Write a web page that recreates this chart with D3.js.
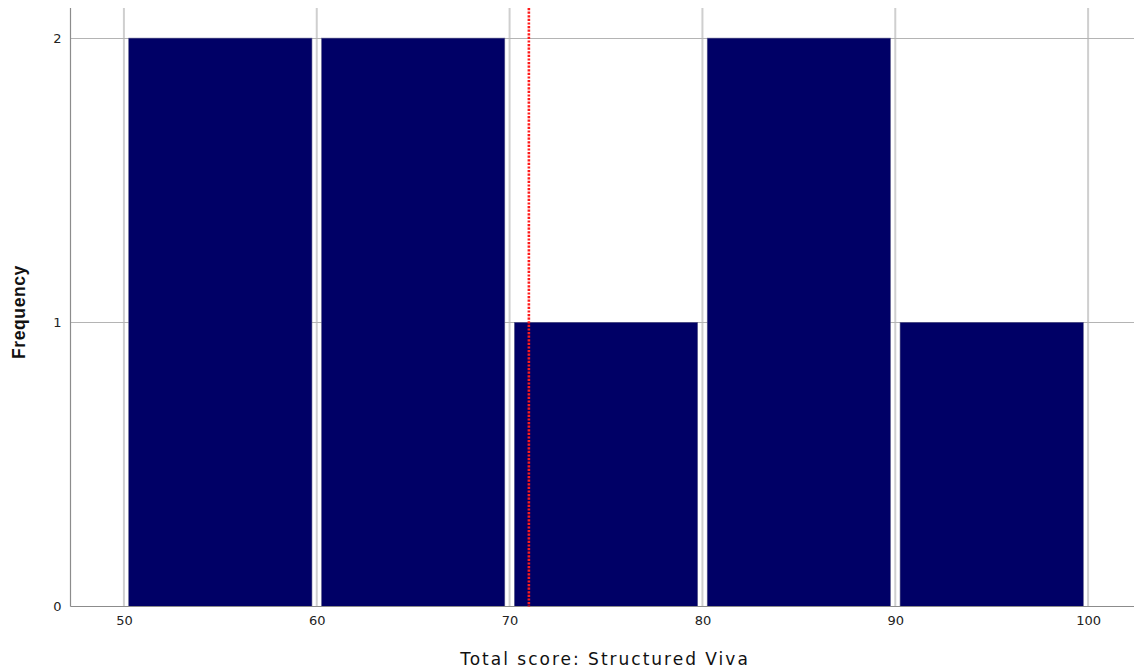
<!DOCTYPE html>
<html><head><meta charset="utf-8">
<script src="https://cdn.jsdelivr.net/npm/d3@7"></script>
<style>body{margin:0;background:#fff}</style>
</head><body>
<svg id="c" width="1134" height="670"></svg>
<script>
const binStarts = [50, 60, 70, 80, 90];
const binWidth = 10;
const frequencies = [2, 2, 1, 2, 1];
const xTicks = [50, 60, 70, 80, 90, 100];
const yTicks = [0, 1, 2];
const meanValue = 71;
const xTitle = "Total score: Structured Viva";
const yTitle = "Frequency";

const svg = d3.select("#c");
const L = 70.5, R = 1134, T = 8, B = 606.5;
const x = d3.scaleLinear().domain([47.23, 102.38]).range([L, R]);
const y = d3.scaleLinear().domain([0, 2.106]).range([B, T]);

// gridlines
svg.append("g").selectAll("line").data(xTicks).join("line")
  .attr("x1", d => x(d)).attr("x2", d => x(d)).attr("y1", T).attr("y2", B)
  .attr("stroke", "#cfcfcf").attr("stroke-width", 2);
svg.append("g").selectAll("line").data(yTicks.filter(d => d > 0)).join("line")
  .attr("x1", L).attr("x2", R).attr("y1", d => Math.round(y(d)) + 0.5).attr("y2", d => Math.round(y(d)) + 0.5)
  .attr("stroke", "#b4b4b4").attr("stroke-width", 1.2);

// bars
const inset = 4.8;
svg.append("g").selectAll("rect").data(binStarts).join("rect")
  .attr("x", d => x(d) + inset)
  .attr("width", d => x(d + binWidth) - x(d) - 2 * inset)
  .attr("y", (d, i) => y(frequencies[i]))
  .attr("height", (d, i) => y(0) - y(frequencies[i]))
  .attr("fill", "#000066")
  .attr("stroke", "#5a5a8a").attr("stroke-width", 0.6);

// axes
const xAxis = d3.axisBottom(x).tickValues(xTicks).tickSize(0).tickPadding(9);
const gx = svg.append("g").attr("transform", `translate(0,${B})`).call(xAxis);
gx.select(".domain").attr("stroke", "#8c8c8c").attr("stroke-width", 1.2).attr("d", `M${L},0H${R}`);
gx.selectAll("text").attr("font-family", "DejaVu Sans, sans-serif").attr("font-size", 13).attr("fill", "#222");

const yAxis = d3.axisLeft(y).tickValues(yTicks).tickSize(0).tickPadding(9).tickFormat(d3.format("d"));
const gy = svg.append("g").attr("transform", `translate(${L},0)`).call(yAxis);
gy.select(".domain").attr("stroke", "#8c8c8c").attr("stroke-width", 1.2).attr("d", `M0,${T}V${B}`);
gy.selectAll("text").attr("font-family", "DejaVu Sans, sans-serif").attr("font-size", 13).attr("fill", "#222");

// mean line
svg.append("line")
  .attr("x1", x(meanValue)).attr("x2", x(meanValue)).attr("y1", T).attr("y2", B)
  .attr("stroke", "#ff1a1a").attr("stroke-width", 2.6).attr("stroke-dasharray", "2.2,1.4");

// titles
svg.append("text").attr("x", 605).attr("y", 665).attr("text-anchor", "middle")
  .attr("font-family", "DejaVu Sans, sans-serif").attr("font-size", 17).attr("letter-spacing", 2)
  .attr("fill", "#111").text(xTitle);
svg.append("text").attr("transform", "translate(25,312) rotate(-90)").attr("text-anchor", "middle")
  .attr("font-family", "Liberation Sans, Arial, sans-serif").attr("font-size", 17.5).attr("font-weight", "bold")
  .attr("letter-spacing", 0.6)
  .attr("fill", "#111").text(yTitle);
</script>
</body></html>
